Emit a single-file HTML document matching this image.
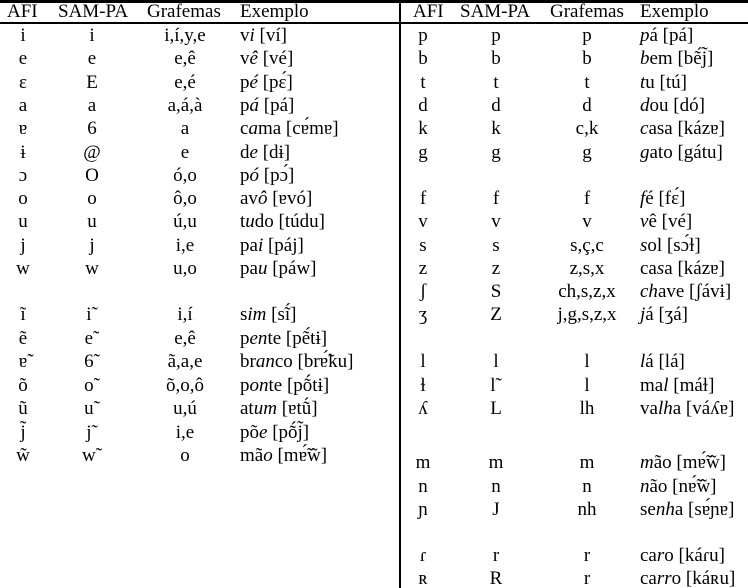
<!DOCTYPE html>
<html><head><meta charset="utf-8"><style>
html,body{margin:0;padding:0;background:#fff;}
#c{position:relative;width:748px;height:588px;overflow:hidden;font-family:"Liberation Serif","DejaVu Serif",serif;font-size:19px;color:#000;}
.r{position:absolute;left:0;width:748px;height:22px;line-height:22px;white-space:nowrap;}
.r span{position:absolute;top:0;}
.c1,.c2,.c3,.d1,.d2,.d3{width:90px;margin-left:-45px;text-align:center;}
.c1{left:23px}.c2{left:92px}.c3{left:185px}.c4{left:240px}
.d1{left:423px}.d2{left:496px}.d3{left:587px}.d4{left:640px}
i{font-style:italic;}
.hl{position:absolute;left:0;width:748px;background:#000;}
</style></head><body><div id="c">
<div class="hl" style="top:0;height:3px"></div>
<div class="hl" style="top:22px;height:2px"></div>
<div style="position:absolute;left:399px;top:0;width:2px;height:588px;background:#000"></div>

<div class="r" style="top:1px"><span style="left:7px">AFI</span><span style="left:58px">SAM-PA</span><span style="left:147px">Grafemas</span><span style="left:240px">Exemplo</span><span style="left:413px">AFI</span><span style="left:460px">SAM-PA</span><span style="left:550px">Grafemas</span><span style="left:640px">Exemplo</span></div>

<div class="r" style="top:25px"><span class="c1">i</span><span class="c2">i</span><span class="c3">i,í,y,e</span><span class="c4">v<i>i</i> [ví]</span><span class="d1">p</span><span class="d2">p</span><span class="d3">p</span><span class="d4"><i>p</i>á [pá]</span></div>
<div class="r" style="top:48.3px"><span class="c1">e</span><span class="c2">e</span><span class="c3">e,ê</span><span class="c4">v<i>ê</i> [vé]</span><span class="d1">b</span><span class="d2">b</span><span class="d3">b</span><span class="d4"><i>b</i>em [bẽ́j̃]</span></div>
<div class="r" style="top:71.6px"><span class="c1">ɛ</span><span class="c2">E</span><span class="c3">e,é</span><span class="c4">p<i>é</i> [pɛ́]</span><span class="d1">t</span><span class="d2">t</span><span class="d3">t</span><span class="d4"><i>t</i>u [tú]</span></div>
<div class="r" style="top:94.9px"><span class="c1">a</span><span class="c2">a</span><span class="c3">a,á,à</span><span class="c4">p<i>á</i> [pá]</span><span class="d1">d</span><span class="d2">d</span><span class="d3">d</span><span class="d4"><i>d</i>ou [dó]</span></div>
<div class="r" style="top:118.2px"><span class="c1">ɐ</span><span class="c2">6</span><span class="c3">a</span><span class="c4">c<i>a</i>ma [cɐ́mɐ]</span><span class="d1">k</span><span class="d2">k</span><span class="d3">c,k</span><span class="d4"><i>c</i>asa [kázɐ]</span></div>
<div class="r" style="top:141.5px"><span class="c1">ɨ</span><span class="c2">@</span><span class="c3">e</span><span class="c4">d<i>e</i> [dɨ]</span><span class="d1">g</span><span class="d2">g</span><span class="d3">g</span><span class="d4"><i>g</i>ato [gátu]</span></div>
<div class="r" style="top:164.8px"><span class="c1">ɔ</span><span class="c2">O</span><span class="c3">ó,o</span><span class="c4">p<i>ó</i> [pɔ́]</span></div>
<div class="r" style="top:188.1px"><span class="c1">o</span><span class="c2">o</span><span class="c3">ô,o</span><span class="c4">av<i>ô</i> [ɐvó]</span><span class="d1">f</span><span class="d2">f</span><span class="d3">f</span><span class="d4"><i>f</i>é [fɛ́]</span></div>
<div class="r" style="top:211.4px"><span class="c1">u</span><span class="c2">u</span><span class="c3">ú,u</span><span class="c4">t<i>u</i>do [túdu]</span><span class="d1">v</span><span class="d2">v</span><span class="d3">v</span><span class="d4"><i>v</i>ê [vé]</span></div>
<div class="r" style="top:234.7px"><span class="c1">j</span><span class="c2">j</span><span class="c3">i,e</span><span class="c4">pa<i>i</i> [páj]</span><span class="d1">s</span><span class="d2">s</span><span class="d3">s,ç,c</span><span class="d4"><i>s</i>ol [sɔ́ɫ]</span></div>
<div class="r" style="top:258px"><span class="c1">w</span><span class="c2">w</span><span class="c3">u,o</span><span class="c4">pa<i>u</i> [páw]</span><span class="d1">z</span><span class="d2">z</span><span class="d3">z,s,x</span><span class="d4">ca<i>s</i>a [kázɐ]</span></div>
<div class="r" style="top:281.3px"><span class="d1">ʃ</span><span class="d2">S</span><span class="d3">ch,s,z,x</span><span class="d4"><i>ch</i>ave [ʃávɨ]</span></div>
<div class="r" style="top:304px"><span class="c1">ĩ</span><span class="c2">i˜</span><span class="c3">i,í</span><span class="c4">s<i>im</i> [sĩ́]</span><span class="d1">ʒ</span><span class="d2">Z</span><span class="d3">j,g,s,z,x</span><span class="d4"><i>j</i>á [ʒá]</span></div>
<div class="r" style="top:327.5px"><span class="c1">ẽ</span><span class="c2">e˜</span><span class="c3">e,ê</span><span class="c4">p<i>en</i>te [pẽ́tɨ]</span></div>
<div class="r" style="top:351px"><span class="c1">ɐ̃</span><span class="c2">6˜</span><span class="c3">ã,a,e</span><span class="c4">br<i>an</i>co [brɐ̃́ku]</span><span class="d1">l</span><span class="d2">l</span><span class="d3">l</span><span class="d4"><i>l</i>á [lá]</span></div>
<div class="r" style="top:374.5px"><span class="c1">õ</span><span class="c2">o˜</span><span class="c3">õ,o,ô</span><span class="c4">p<i>on</i>te [pṍtɨ]</span><span class="d1">ɫ</span><span class="d2">l˜</span><span class="d3">l</span><span class="d4">ma<i>l</i> [máɫ]</span></div>
<div class="r" style="top:398px"><span class="c1">ũ</span><span class="c2">u˜</span><span class="c3">u,ú</span><span class="c4">at<i>um</i> [ɐtṹ]</span><span class="d1">ʎ</span><span class="d2">L</span><span class="d3">lh</span><span class="d4">va<i>lh</i>a [váʎɐ]</span></div>
<div class="r" style="top:421.5px"><span class="c1">j̃</span><span class="c2">j˜</span><span class="c3">i,e</span><span class="c4">põ<i>e</i> [pṍj̃]</span></div>
<div class="r" style="top:445px"><span class="c1">w̃</span><span class="c2">w˜</span><span class="c3">o</span><span class="c4">mã<i>o</i> [mɐ̃́w̃]</span></div>
<div class="r" style="top:452px"><span class="d1">m</span><span class="d2">m</span><span class="d3">m</span><span class="d4"><i>m</i>ão [mɐ̃́w̃]</span></div>
<div class="r" style="top:475.5px"><span class="d1">n</span><span class="d2">n</span><span class="d3">n</span><span class="d4"><i>n</i>ão [nɐ̃́w̃]</span></div>
<div class="r" style="top:499px"><span class="d1">ɲ</span><span class="d2">J</span><span class="d3">nh</span><span class="d4">se<i>nh</i>a [sɐ́ɲɐ]</span></div>
<div class="r" style="top:545px"><span class="d1">ɾ</span><span class="d2">r</span><span class="d3">r</span><span class="d4">ca<i>r</i>o [káɾu]</span></div>
<div class="r" style="top:568px"><span class="d1">ʀ</span><span class="d2">R</span><span class="d3">r</span><span class="d4">ca<i>rr</i>o [káʀu]</span></div>
</div></body></html>
